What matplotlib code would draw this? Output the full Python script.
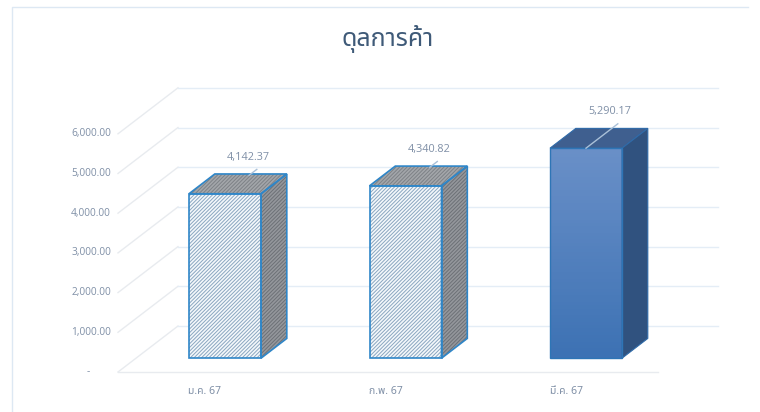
import matplotlib
matplotlib.use("Agg")
import matplotlib.pyplot as plt
import numpy as np
from matplotlib.patches import Polygon

plt.rcParams['hatch.linewidth'] = 0.7
THAI = ['Noto Sans Thai', 'DejaVu Sans']

categories = ['ม.ค. 67', 'ก.พ. 67', 'มี.ค. 67']
values = [4142.37, 4340.82, 5290.17]
ticks = [0, 1000, 2000, 3000, 4000, 5000, 6000]
tick_labels = ['-', '1,000.00', '2,000.00', '3,000.00', '4,000.00', '5,000.00', '6,000.00']
title = 'ดุลการค้า'

# pixel scale of the fake 3D box
PX_PER_UNIT = 39.7 / 1000
FLOOR_Y = 372
FLOOR_LEFT, FLOOR_RIGHT = 118, 658
DEPTH_X, DEPTH_Y = 60, -46
BAR_W = 72
BAR_DEPTH = 0.43      # bar depth as share of the box depth
BAR_START = 0.30      # where the bar front sits in the box depth
FIRST_X, STEP_X = 171, 180.5

TEXT = '#7f8fa6'
GRID = '#e4edf6'
EDGE = '#2f86c8'


def pt(x, val, d=0.0):
    # x in px on the front plane, val in data units, d = depth 0..1
    return (x + d * DEPTH_X, FLOOR_Y - val * PX_PER_UNIT + d * DEPTH_Y)


fig = plt.figure(figsize=(7.6, 4.12), dpi=100)
ax = fig.add_axes([0, 0, 1, 1])
ax.set_xlim(0, 760)
ax.set_ylim(412, 0)
ax.axis('off')

# chart frame
ax.plot([12, 12, 748], [412, 7, 7], color='#dde8f3', lw=1)

# walls and floor grid
for t in ticks:
    a, b, c = pt(FLOOR_LEFT, t), pt(FLOOR_LEFT, t, 1), pt(FLOOR_RIGHT, t, 1)
    ax.plot([a[0], b[0]], [a[1], b[1]], color='#e8ebef', lw=1, zorder=1)
    ax.plot([b[0], c[0]], [b[1], c[1]], color=GRID, lw=1, zorder=1)
ax.plot([FLOOR_LEFT, FLOOR_RIGHT], [FLOOR_Y, FLOOR_Y], color='#e8ebef', lw=1, zorder=1)

for t, lab in zip(ticks, tick_labels):
    ax.text(FLOOR_LEFT - 7 if t else 88, pt(0, t)[1], lab, ha='right' if t else 'center',
            va='center', fontsize=7.3, color=TEXT, family='Open Sans')

for i, (cat, v) in enumerate(zip(categories, values)):
    x0 = FIRST_X + STEP_X * i
    x1 = x0 + BAR_W
    d0, d1 = BAR_START, BAR_START + BAR_DEPTH
    front = [pt(x0, 0, d0), pt(x1, 0, d0), pt(x1, v, d0), pt(x0, v, d0)]
    top = [pt(x0, v, d0), pt(x1, v, d0), pt(x1, v, d1), pt(x0, v, d1)]
    side = [pt(x1, 0, d0), pt(x1, 0, d1), pt(x1, v, d1), pt(x1, v, d0)]

    if i < 2:
        # hatched bars
        ax.add_patch(Polygon(front, closed=True, facecolor='#f4f8fb', edgecolor='#8aa6c0',
                             hatch='/////////', lw=0, zorder=3))
        ax.add_patch(Polygon(front, closed=True, fill=False, edgecolor=EDGE, lw=1.2, zorder=4))
        for poly, col, hcol in ((top, '#a3a6aa', '#7d8186'), (side, '#94979c', '#6c7076')):
            ax.add_patch(Polygon(poly, closed=True, facecolor=col, edgecolor=hcol,
                                 hatch='/////////', lw=0, zorder=3))
            ax.add_patch(Polygon(poly, closed=True, fill=False, edgecolor=EDGE, lw=1.2, zorder=4))
    else:
        # solid bar, vertical gradient on the front
        grad = np.linspace(0, 1, 64).reshape(-1, 1)
        cmap = matplotlib.colors.LinearSegmentedColormap.from_list('b', ['#6a90c8', '#3d72b4'])
        ys = [p[1] for p in front]
        im = ax.imshow(grad, cmap=cmap, extent=[x0 + d0 * DEPTH_X, x1 + d0 * DEPTH_X, max(ys), min(ys)],
                       aspect='auto', zorder=3)
        im.set_clip_path(Polygon(front, closed=True, transform=ax.transData))
        ax.set_xlim(0, 760)
        ax.set_ylim(412, 0)
        ax.add_patch(Polygon(top, closed=True, facecolor='#3f5f8f', edgecolor='#2f6aa8', lw=0.8, zorder=3))
        ax.add_patch(Polygon(side, closed=True, facecolor='#30527f', edgecolor='#2f6aa8', lw=0.8, zorder=3))
        ax.add_patch(Polygon(front, closed=True, fill=False, edgecolor='#2e75b6', lw=1, zorder=4))

    # leader line from the top face to the label
    cx = (x0 + x1) / 2
    p0 = pt(cx, v, d0 if i == 2 else d1 - 0.03)
    p1 = pt(cx, v, d1 + 0.1)
    ax.plot([p0[0], p1[0]], [p0[1], p1[1]], color='#a9c0d8', lw=1, zorder=5)
    lab_x, lab_y = pt(cx, v, d1)
    ax.text(lab_x - 2, lab_y - 11, f'{v:,.2f}', ha='center', va='bottom', fontsize=7.8,
            color=TEXT, family='Open Sans', zorder=6)

    ax.text(cx - 2, 392, cat, ha='center', va='center', fontsize=7.5, color=TEXT, family=THAI)

ax.text(388, 39, title, ha='center', va='center', fontsize=18, color='#3f5a78',
        weight='medium', family=THAI)

fig.savefig('out.png', dpi=100)
